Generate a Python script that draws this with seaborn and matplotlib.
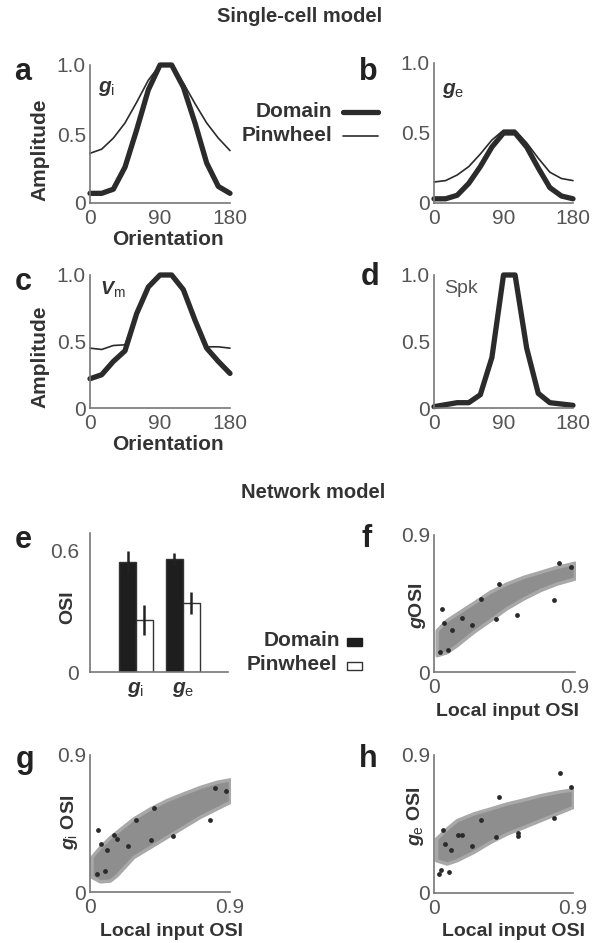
import matplotlib
matplotlib.use('Agg')
import matplotlib.pyplot as plt
from matplotlib.lines import Line2D
from matplotlib.patches import Rectangle
import pandas as pd
import seaborn as sns

# ---- single-cell tuning curves ----
orient = [0, 15, 30, 45, 60, 75, 90, 105, 120, 135, 150, 165, 180]
gi_domain = [0.07, 0.07, 0.10, 0.26, 0.53, 0.82, 1.0, 1.0, 0.84, 0.58, 0.29, 0.12, 0.07]
gi_pinwheel = [0.36, 0.39, 0.47, 0.58, 0.73, 0.89, 1.0, 1.0, 0.87, 0.72, 0.58, 0.47, 0.38]
ge_domain = [0.03, 0.03, 0.055, 0.14, 0.26, 0.40, 0.50, 0.50, 0.40, 0.25, 0.11, 0.05, 0.03]
ge_pinwheel = [0.15, 0.16, 0.20, 0.26, 0.35, 0.45, 0.52, 0.52, 0.43, 0.32, 0.22, 0.175, 0.16]
vm_domain = [0.22, 0.25, 0.35, 0.43, 0.71, 0.91, 1.0, 1.0, 0.89, 0.66, 0.45, 0.35, 0.26]
vm_pinwheel = [0.45, 0.44, 0.47, 0.475, 0.71, 0.91, 1.0, 1.0, 0.89, 0.66, 0.46, 0.46, 0.45]
spk_domain = [0.01, 0.025, 0.04, 0.04, 0.10, 0.38, 1.0, 1.0, 0.45, 0.11, 0.04, 0.03, 0.02]

# ---- network model OSI bars ----
osi_vars = ['gi', 'ge']
osi_domain = [0.54, 0.556]
osi_domain_err = [0.055, 0.03]
osi_pinwheel = [0.256, 0.339]
osi_pinwheel_err = [0.072, 0.054]

# ---- scatter clouds: band edges + dark outlier points ----
f_x = [0.017, 0.08, 0.145, 0.25, 0.357, 0.46, 0.57, 0.677, 0.78, 0.9]
f_lo = [0.11, 0.13, 0.176, 0.263, 0.34, 0.417, 0.483, 0.538, 0.58, 0.615]
f_hi = [0.274, 0.34, 0.384, 0.454, 0.527, 0.58, 0.625, 0.658, 0.69, 0.718]
f_dot_x = [0.80, 0.415, 0.298, 0.053, 0.179, 0.064, 0.113, 0.245, 0.394, 0.532, 0.768, 0.872, 0.036, 0.092]
f_dot_y = [0.716, 0.575, 0.478, 0.417, 0.358, 0.325, 0.274, 0.307, 0.347, 0.373, 0.476, 0.687, 0.132, 0.143]

g_x = [0.01, 0.064, 0.128, 0.171, 0.279, 0.386, 0.493, 0.6, 0.707, 0.814, 0.9]
g_lo = [0.10, 0.07, 0.075, 0.11, 0.23, 0.296, 0.362, 0.428, 0.494, 0.549, 0.593]
g_hi = [0.23, 0.296, 0.36, 0.395, 0.483, 0.549, 0.604, 0.648, 0.69, 0.724, 0.74]
g_dot_x = [0.804, 0.874, 0.771, 0.411, 0.296, 0.054, 0.069, 0.156, 0.171, 0.107, 0.246, 0.39, 0.531, 0.096, 0.043]
g_dot_y = [0.685, 0.665, 0.472, 0.555, 0.476, 0.41, 0.318, 0.373, 0.345, 0.274, 0.30, 0.34, 0.367, 0.136, 0.12]

h_x = [0.013, 0.082, 0.147, 0.255, 0.363, 0.472, 0.58, 0.688, 0.796, 0.9]
h_lo = [0.214, 0.192, 0.214, 0.268, 0.333, 0.388, 0.431, 0.475, 0.519, 0.562]
h_hi = [0.355, 0.42, 0.475, 0.519, 0.551, 0.584, 0.61, 0.638, 0.66, 0.676]
h_dot_x = [0.813, 0.422, 0.887, 0.779, 0.303, 0.056, 0.158, 0.18, 0.071, 0.108, 0.244, 0.402, 0.541, 0.541, 0.043, 0.097, 0.03]
h_dot_y = [0.78, 0.628, 0.693, 0.486, 0.475, 0.414, 0.377, 0.377, 0.318, 0.279, 0.305, 0.362, 0.392, 0.37, 0.153, 0.137, 0.126]

sns.set_style('white')
plt.rcParams['font.family'] = ['Liberation Sans', 'DejaVu Sans']
plt.rcParams['mathtext.fontset'] = 'custom'
plt.rcParams['mathtext.it'] = 'Liberation Sans:italic:bold'
plt.rcParams['mathtext.rm'] = 'Liberation Sans'

W, H = 593, 943
fig = plt.figure(figsize=(W / 100, H / 100), dpi=100)
DARK = '#2b2b2b'
TXT = '#333333'


def px_box(x0, x1, y0, y1):
    return [x0 / W, 1 - y1 / H, (x1 - x0) / W, (y1 - y0) / H]


def ftext(x, y, s, **kw):
    kw.setdefault('color', TXT)
    fig.text(x / W, 1 - y / H, s, **kw)


def style(ax):
    sns.despine(ax=ax)
    for s in ['left', 'bottom']:
        ax.spines[s].set_color('#777777')
        ax.spines[s].set_linewidth(1.2)
    ax.tick_params(length=0, labelsize=15, labelcolor='#555555')
    ax.tick_params(axis='x', pad=4)
    ax.tick_params(axis='y', pad=3)
    ax.set_xlabel('')
    ax.set_ylabel('')


def tuning(ax, dom, pin=None):
    if pin is not None:
        sns.lineplot(x=orient, y=pin, color=DARK, linewidth=1.2, ax=ax)
    sns.lineplot(x=orient, y=dom, color=DARK, linewidth=3.8, ax=ax)
    for ln in ax.lines:
        ln.set_clip_on(False)
    ax.set_xlim(0, 180)
    ax.set_ylim(0, 1)
    ax.set_xticks([0, 90, 180])
    ax.set_yticks([0, 0.5, 1.0])
    ax.set_yticklabels(['0', '0.5', '1.0'])
    style(ax)


def cloud(ax, bx, lo, hi, dx, dy):
    ax.fill_between(bx, lo, hi, color='#8e8e8e', edgecolor='#a8a8a8', linewidth=2.5)
    sns.scatterplot(x=dx, y=dy, color='#2a2a2a', s=12, linewidth=0, ax=ax)
    ax.set_xlim(0, 0.9)
    ax.set_ylim(0, 0.9)
    ax.set_xticks([0, 0.9])
    ax.set_yticks([0, 0.9])
    ax.set_xticklabels(['0', '0.9'])
    ax.set_yticklabels(['0', '0.9'])
    style(ax)


# panel a-d
ax_a = fig.add_axes(px_box(90, 230, 65, 203))
tuning(ax_a, gi_domain, gi_pinwheel)
ax_b = fig.add_axes(px_box(434, 573, 63, 203))
tuning(ax_b, ge_domain, ge_pinwheel)
ax_c = fig.add_axes(px_box(90, 230, 275, 408))
tuning(ax_c, vm_domain, vm_pinwheel)
ax_d = fig.add_axes(px_box(434, 573, 275, 408))
tuning(ax_d, spk_domain)

# panel e
ax_e = fig.add_axes(px_box(90, 228, 533, 672))
df = pd.DataFrame({
    'var': osi_vars * 2,
    'osi': osi_domain + osi_pinwheel,
    'kind': ['Domain'] * 2 + ['Pinwheel'] * 2,
})
sns.barplot(data=df, x='var', y='osi', hue='kind', order=osi_vars,
            palette={'Domain': '#1e1e1e', 'Pinwheel': 'white'},
            width=0.72, edgecolor='#333333', linewidth=1, errorbar=None,
            legend=False, ax=ax_e)
for cont, vals, errs in zip(ax_e.containers, [osi_domain, osi_pinwheel],
                            [osi_domain_err, osi_pinwheel_err]):
    for bar, v, e in zip(cont, vals, errs):
        xc = bar.get_x() + bar.get_width() / 2
        ax_e.errorbar(xc, v, yerr=e, fmt='none', ecolor='#222222', elinewidth=1.8, capsize=0)
ax_e.set_xlim(-0.98, 1.96)
ax_e.set_ylim(0, 0.684)
ax_e.set_yticks([0, 0.6])
ax_e.set_yticklabels(['0', '0.6'])
ax_e.set_xticks([0, 1])
ax_e.set_xticklabels([r'$g_{\rm i}$', r'$g_{\rm e}$'])
style(ax_e)
ax_e.tick_params(axis='y', length=5, color='#777777', width=1.2)
ax_e.tick_params(axis='x', pad=6, labelcolor=TXT)

# panels f-h
ax_f = fig.add_axes(px_box(434, 575, 535, 672))
cloud(ax_f, f_x, f_lo, f_hi, f_dot_x, f_dot_y)
ax_g = fig.add_axes(px_box(90, 230, 755, 892))
cloud(ax_g, g_x, g_lo, g_hi, g_dot_x, g_dot_y)
ax_h = fig.add_axes(px_box(434, 573, 755, 893))
cloud(ax_h, h_x, h_lo, h_hi, h_dot_x, h_dot_y)

# titles
ftext(300, 22, 'Single-cell model', ha='center', va='baseline', fontsize=14.5, fontweight='bold')
ftext(313, 498, 'Network model', ha='center', va='baseline', fontsize=14.5, fontweight='bold')

# panel letters
for x, y, s in [(23, 80, 'a'), (368, 80, 'b'), (23, 290, 'c'), (370, 285, 'd'),
                (23, 548, 'e'), (367, 547, 'f'), (25, 768, 'g'), (368, 767, 'h')]:
    ftext(x, y, s, ha='center', va='baseline', fontsize=22, fontweight='bold', color='#222222')

# axis labels
lab = dict(fontsize=15, fontweight='bold')
ftext(40, 150, 'Amplitude', rotation=90, ha='center', va='center', **lab)
ftext(40, 357, 'Amplitude', rotation=90, ha='center', va='center', **lab)
ftext(168, 240, 'Orientation', ha='center', va='center', **lab)
ftext(168, 445, 'Orientation', ha='center', va='center', **lab)
ftext(68, 607, 'OSI', rotation=90, ha='center', va='center', fontsize=14, fontweight='bold')
ftext(418, 606, r'$g$OSI', rotation=90, ha='center', va='center', fontsize=14, fontweight='bold')
ftext(70, 822, r'$g_{\rm i}$ OSI', rotation=90, ha='center', va='center', fontsize=14, fontweight='bold')
ftext(415, 816, r'$g_{\rm e}$ OSI', rotation=90, ha='center', va='center', fontsize=14, fontweight='bold')
for x, y in [(507, 712), (172, 932), (514, 932)]:
    ftext(x, y, 'Local input OSI', ha='center', va='center', fontsize=14, fontweight='bold')

# inner labels
ftext(98, 92, r'$g_{\rm i}$', ha='left', va='baseline', fontsize=15)
ftext(442, 94, r'$g_{\rm e}$', ha='left', va='baseline', fontsize=15)
ftext(100, 294, r'$V_{\rm m}$', ha='left', va='baseline', fontsize=14)
ftext(444, 293, 'Spk', ha='left', va='baseline', fontsize=14, color='#555555')

# legend 1
ftext(332, 117, 'Domain', ha='right', va='baseline', fontsize=15, fontweight='bold')
ftext(332, 141, 'Pinwheel', ha='right', va='baseline', fontsize=15, fontweight='bold')
fig.add_artist(Line2D([343 / W, 378 / W], [1 - 112 / H] * 2, lw=3.8, color=DARK,
                      transform=fig.transFigure))
fig.add_artist(Line2D([343 / W, 378 / W], [1 - 136 / H] * 2, lw=1.2, color=DARK,
                      transform=fig.transFigure))

# legend 2
ftext(340, 646, 'Domain', ha='right', va='baseline', fontsize=15, fontweight='bold')
ftext(337, 670, 'Pinwheel', ha='right', va='baseline', fontsize=15, fontweight='bold')
fig.add_artist(Rectangle((347 / W, 1 - 646 / H), 15 / W, 8 / H, fc='#1e1e1e', ec='#1e1e1e',
                         transform=fig.transFigure))
fig.add_artist(Rectangle((347 / W, 1 - 670 / H), 15 / W, 8 / H, fc='white', ec='#333333',
                         lw=1, transform=fig.transFigure))

fig.savefig('out.png', dpi=100)
